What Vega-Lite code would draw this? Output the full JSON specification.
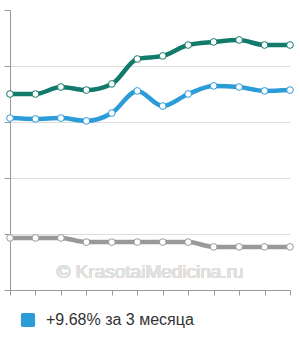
{
  "$schema": "https://vega.github.io/schema/vega-lite/v6.json",
  "width": 280,
  "height": 280,
  "autosize": {"type": "none"},
  "padding": {"left": 10, "top": 10, "right": 10, "bottom": 50},
  "config": {
    "view": {"stroke": null},
    "font": "Liberation Sans"
  },
  "data": {
    "values": [
      {"series": "A", "i": 0, "v": 70},
      {"series": "A", "i": 1, "v": 70},
      {"series": "A", "i": 2, "v": 72.5},
      {"series": "A", "i": 3, "v": 71.4},
      {"series": "A", "i": 4, "v": 73.6},
      {"series": "A", "i": 5, "v": 82.5},
      {"series": "A", "i": 6, "v": 83.6},
      {"series": "A", "i": 7, "v": 87.5},
      {"series": "A", "i": 8, "v": 88.6},
      {"series": "A", "i": 9, "v": 89.3},
      {"series": "A", "i": 10, "v": 87.5},
      {"series": "A", "i": 11, "v": 87.5},
      {"series": "+9.68% за 3 месяца", "i": 0, "v": 61.4},
      {"series": "+9.68% за 3 месяца", "i": 1, "v": 61.1},
      {"series": "+9.68% за 3 месяца", "i": 2, "v": 61.4},
      {"series": "+9.68% за 3 месяца", "i": 3, "v": 60.4},
      {"series": "+9.68% за 3 месяца", "i": 4, "v": 63.2},
      {"series": "+9.68% за 3 месяца", "i": 5, "v": 71.1},
      {"series": "+9.68% за 3 месяца", "i": 6, "v": 65.7},
      {"series": "+9.68% за 3 месяца", "i": 7, "v": 70},
      {"series": "+9.68% за 3 месяца", "i": 8, "v": 72.9},
      {"series": "+9.68% за 3 месяца", "i": 9, "v": 72.5},
      {"series": "+9.68% за 3 месяца", "i": 10, "v": 71.1},
      {"series": "+9.68% за 3 месяца", "i": 11, "v": 71.4},
      {"series": "C", "i": 0, "v": 18.6},
      {"series": "C", "i": 1, "v": 18.6},
      {"series": "C", "i": 2, "v": 18.6},
      {"series": "C", "i": 3, "v": 17.1},
      {"series": "C", "i": 4, "v": 17.1},
      {"series": "C", "i": 5, "v": 17.1},
      {"series": "C", "i": 6, "v": 17.1},
      {"series": "C", "i": 7, "v": 17.1},
      {"series": "C", "i": 8, "v": 15.4},
      {"series": "C", "i": 9, "v": 15.4},
      {"series": "C", "i": 10, "v": 15.4},
      {"series": "C", "i": 11, "v": 15.4}
    ]
  },
  "encoding": {
    "x": {
      "field": "i",
      "type": "quantitative",
      "scale": {"domain": [0, 11], "nice": false, "zero": false},
      "axis": {
        "title": null,
        "labels": false,
        "values": [0, 1, 2, 3, 4, 5, 6, 7, 8, 9, 10, 11],
        "tickSize": 5,
        "tickColor": "#999",
        "domainColor": "#999",
        "grid": false
      }
    },
    "y": {
      "field": "v",
      "type": "quantitative",
      "scale": {"domain": [0, 100], "nice": false},
      "axis": {
        "title": null,
        "labels": false,
        "values": [0, 20, 40, 60, 80, 100],
        "tickSize": 6,
        "tickColor": "#999",
        "domainColor": "#999",
        "grid": true,
        "gridColor": {"condition": {"test": "datum.value == 100 || datum.value == 0", "value": "transparent"}, "value": "#dddddd"}
      }
    },
    "color": {
      "field": "series",
      "type": "nominal",
      "scale": {
        "domain": ["A", "+9.68% за 3 месяца", "C"],
        "range": ["#127a6b", "#2b9cd8", "#999999"]
      },
      "legend": {
        "title": null,
        "values": ["+9.68% за 3 месяца"],
        "orient": "none",
        "legendX": 10,
        "legendY": 302,
        "symbolType": "M-1,-0.75Q-1,-1,-0.75,-1L0.75,-1Q1,-1,1,-0.75L1,0.75Q1,1,0.75,1L-0.75,1Q-1,1,-1,0.75Z",
        "symbolSize": 200,
        "symbolFillColor": "#2b9cd8",
        "symbolStrokeColor": "#2b9cd8",
        "symbolStrokeWidth": 0,
        "symbolOpacity": 1,
        "labelFontSize": 16,
        "labelColor": "#333",
        "labelFont": "Liberation Sans",
        "labelOffset": 10,
        "padding": 0
      }
    }
  },
  "layer": [
    {
      "mark": {"type": "text", "fontSize": 19, "color": "#e0e0e0", "font": "Liberation Sans", "baseline": "middle", "align": "center"},
      "encoding": {
        "x": {"datum": 5.5, "type": "quantitative"},
        "y": {"datum": 6.4, "type": "quantitative"},
        "text": {"value": "© KrasotaiMedicina.ru"},
        "color": null
      }
    },
    {
      "mark": {"type": "line", "interpolate": "monotone", "strokeWidth": 4.5}
    },
    {
      "mark": {"type": "point", "filled": false, "fill": "white", "fillOpacity": 1, "strokeWidth": 1, "size": 45, "opacity": 1},
      "encoding": {
        "color": {"field": "series", "type": "nominal", "legend": null}
      }
    }
  ]
}
